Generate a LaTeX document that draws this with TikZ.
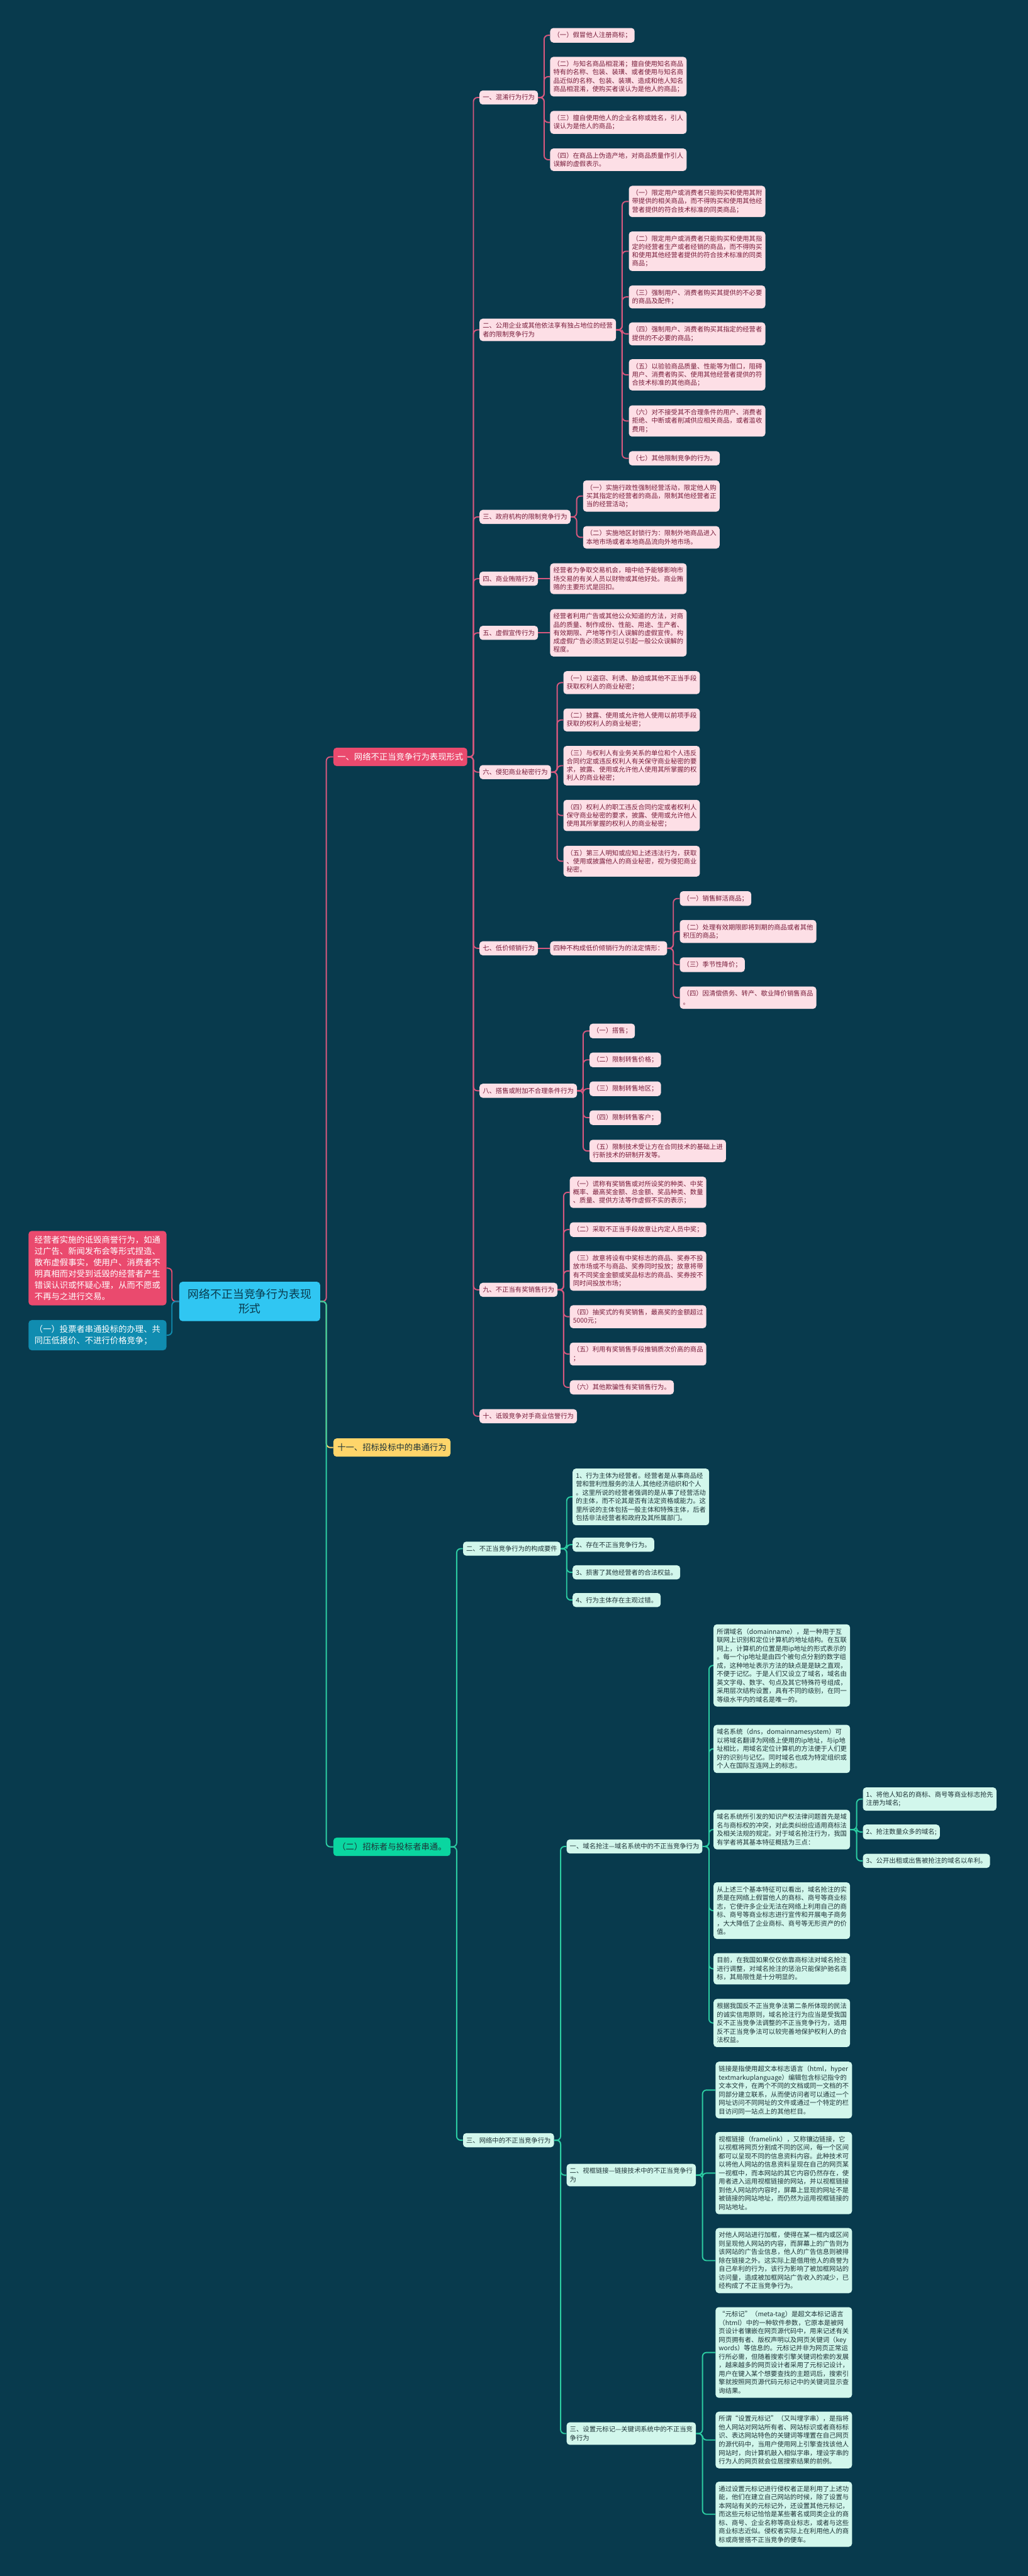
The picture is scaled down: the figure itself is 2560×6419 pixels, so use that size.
\documentclass[tikz,border=0pt]{standalone}
\usepackage{fontspec}
\setmainfont{Noto Sans CJK SC}
\definecolor{bgcol}{RGB}{8,58,77}
\definecolor{pinkln}{RGB}{214,88,126}
\definecolor{pinkfill}{RGB}{253,223,230}
\definecolor{pinktext}{RGB}{120,28,58}
\definecolor{redfill}{RGB}{234,74,110}
\definecolor{greenln}{RGB}{44,204,162}
\definecolor{greenfill}{RGB}{210,247,236}
\definecolor{greentext}{RGB}{30,52,56}
\definecolor{mintfill}{RGB}{10,214,160}
\definecolor{yellowfill}{RGB}{255,213,106}
\definecolor{rootfill}{RGB}{48,198,242}
\definecolor{bluefill}{RGB}{16,140,176}
\begin{document}
\begin{tikzpicture}[
    x=0.5pt, y=-0.5pt,
    base/.style={
        rounded corners=4pt,
        anchor=west,
        align=left,
        inner xsep=4pt,
        inner ysep=5pt,
        font=\fontsize{8.1pt}{10.35pt}\selectfont
    },
    pinkbox/.style={base, fill=pinkfill, text=pinktext},
    greenbox/.style={base, fill=greenfill, text=greentext,
        font=\fontsize{8.1pt}{10.6pt}\selectfont},
    topbox/.style={
        rounded corners=4pt,
        anchor=west,
        inner xsep=5pt,
        inner ysep=6.5pt,
        font=\fontsize{10.45pt}{13pt}\selectfont
    },
    sidebox/.style={
        rounded corners=4pt,
        anchor=east,
        align=left,
        inner xsep=7.5pt,
        inner ysep=6.5pt,
        text=white,
        font=\fontsize{10.45pt}{14pt}\selectfont
    },
    rootbox/.style={
        rounded corners=4pt,
        align=center,
        fill=rootfill,
        text=bgcol,
        inner xsep=11pt,
        inner ysep=9pt,
        font=\fontsize{13.95pt}{17.9pt}\selectfont
    },
    pinkline/.style={draw=pinkln, line width=1.5pt, rounded corners=5pt},
    greenline/.style={draw=greenln, line width=1.5pt, rounded corners=5pt}
]
    \fill[bgcol] (0,0) rectangle (2560,6419);
    \useasboundingbox (0,0) rectangle (2560,6419);

    % root and side notes
    \node[rootbox] (root) at (622,3243) {网络不正当竞争行为表现\\形式};
    \node[sidebox, fill=redfill] (defame) at (415,3160) {经营者实施的诋毁商誉行为，如通\\过广告、新闻发布会等形式捏造、\\散布虚假事实，使用户、消费者不\\明真相而对受到诋毁的经营者产生\\错误认识或怀疑心理，从而不愿或\\不再与之进行交易。};
    \node[sidebox, fill=bluefill] (collude) at (415,3327) {（一）投票者串通投标的办理、共\\同压低报价、不进行价格竞争；};

    % first level
    \node[topbox, fill=redfill, text=white] (forms) at (830,1886) {一、网络不正当竞争行为表现形式};
    \node[topbox, fill=yellowfill, text=greentext] (bid) at (830,3607) {十一、招标投标中的串通行为};
    \node[topbox, fill=mintfill, text=greentext] (collusion) at (830,4602) {（二）招标者与投标者串通。};

    % pink branch
    \node[pinkbox] (hx1) at (1194,243) {一、混淆行为行为};
    \node[pinkbox] (hx2) at (1194,822) {二、公用企业或其他依法享有独占地位的经营\\者的限制竞争行为};
    \node[pinkbox] (hx3) at (1194,1288) {三、政府机构的限制竞争行为};
    \node[pinkbox] (hx4) at (1194,1442) {四、商业贿赂行为};
    \node[pinkbox] (hx5) at (1194,1577) {五、虚假宣传行为};
    \node[pinkbox] (hx6) at (1194,1924) {六、侵犯商业秘密行为};
    \node[pinkbox] (hx7) at (1194,2363) {七、低价倾销行为};
    \node[pinkbox] (hx8) at (1194,2718) {八、搭售或附加不合理条件行为};
    \node[pinkbox] (hx9) at (1194,3214) {九、不正当有奖销售行为};
    \node[pinkbox] (hx10) at (1194,3529) {十、诋毁竞争对手商业信誉行为};

    \node[pinkbox] (hx1a) at (1370,88) {（一）假冒他人注册商标；};
    \node[pinkbox] (hx1b) at (1370,191) {（二）与知名商品相混淆；擅自使用知名商品\\特有的名称、包装、装璜、或者使用与知名商\\品近似的名称、包装、装璜、造成和他人知名\\商品相混淆，使购买者误认为是他人的商品；};
    \node[pinkbox] (hx1c) at (1370,305) {（三）擅自使用他人的企业名称或姓名，引人\\误认为是他人的商品；};
    \node[pinkbox] (hx1d) at (1370,398) {（四）在商品上伪造产地，对商品质量作引人\\误解的虚假表示。};

    \node[pinkbox] (hx2a) at (1566,502) {（一）限定用户或消费者只能购买和使用其附\\带提供的相关商品，而不得购买和使用其他经\\营者提供的符合技术标准的同类商品；};
    \node[pinkbox] (hx2b) at (1566,626) {（二）限定用户或消费者只能购买和使用其指\\定的经营者生产或者经销的商品，而不得购买\\和使用其他经营者提供的符合技术标准的同类\\商品；};
    \node[pinkbox] (hx2c) at (1566,740) {（三）强制用户、消费者购买其提供的不必要\\的商品及配件；};
    \node[pinkbox] (hx2d) at (1566,832) {（四）强制用户、消费者购买其指定的经营者\\提供的不必要的商品；};
    \node[pinkbox] (hx2e) at (1566,934) {（五）以验验商品质量、性能等为借口，阻碍\\用户、消费者购买、使用其他经营者提供的符\\合技术标准的其他商品；};
    \node[pinkbox] (hx2f) at (1566,1049) {（六）对不接受其不合理条件的用户、消费者\\拒绝、中断或者削减供应相关商品，或者滥收\\费用；};
    \node[pinkbox] (hx2g) at (1566,1142) {（七）其他限制竞争的行为。};

    \node[pinkbox] (hx3a) at (1452,1236) {（一）实施行政性强制经营活动，限定他人购\\买其指定的经营者的商品，限制其他经营者正\\当的经营活动；};
    \node[pinkbox] (hx3b) at (1452,1339) {（二）实施地区封锁行为：限制外地商品进入\\本地市场或者本地商品流向外地市场。};

    \node[pinkbox] (hx4a) at (1370,1442) {经营者为争取交易机会，暗中给予能够影响市\\场交易的有关人员以财物或其他好处。商业贿\\赂的主要形式是回扣。};
    \node[pinkbox] (hx5a) at (1370,1577) {经营者利用广告或其他公众知道的方法，对商\\品的质量、制作成份、性能、用途、生产者、\\有效期限、产地等作引人误解的虚假宣传。构\\成虚假广告必须达到足以引起一般公众误解的\\程度。};

    \node[pinkbox] (hx6a) at (1403,1701) {（一）以盗窃、利诱、胁迫或其他不正当手段\\获取权利人的商业秘密；};
    \node[pinkbox] (hx6b) at (1403,1794) {（二）披露、使用或允许他人使用以前项手段\\获取的权利人的商业秘密；};
    \node[pinkbox] (hx6c) at (1403,1908) {（三）与权利人有业务关系的单位和个人违反\\合同约定或违反权利人有关保守商业秘密的要\\求，披露、使用或允许他人使用其所掌握的权\\利人的商业秘密；};
    \node[pinkbox] (hx6d) at (1403,2032) {（四）权利人的职工违反合同约定或者权利人\\保守商业秘密的要求，披露、使用或允许他人\\使用其所掌握的权利人的商业秘密；};
    \node[pinkbox] (hx6e) at (1403,2146) {（五）第三人明知或应知上述违法行为，获取\\、使用或披露他人的商业秘密，视为侵犯商业\\秘密。};

    \node[pinkbox] (hx7a) at (1370,2363) {四种不构成低价倾销行为的法定情形：};
    \node[pinkbox] (hx7a1) at (1693,2239) {（一）销售鲜活商品；};
    \node[pinkbox] (hx7a2) at (1693,2321) {（二）处理有效期限即将到期的商品或者其他\\积压的商品；};
    \node[pinkbox] (hx7a3) at (1693,2404) {（三）季节性降价；};
    \node[pinkbox] (hx7a4) at (1693,2486) {（四）因清偿债务、转产、歇业降价销售商品\\。};

    \node[pinkbox] (hx8a) at (1468,2569) {（一）搭售；};
    \node[pinkbox] (hx8b) at (1468,2641) {（二）限制转售价格；};
    \node[pinkbox] (hx8c) at (1468,2713) {（三）限制转售地区；};
    \node[pinkbox] (hx8d) at (1468,2785) {（四）限制转售客户；};
    \node[pinkbox] (hx8e) at (1468,2868) {（五）限制技术受让方在合同技术的基础上进\\行新技术的研制开发等。};

    \node[pinkbox] (hx9a) at (1419,2971) {（一）谎称有奖销售或对所设奖的种类、中奖\\概率、最高奖金额、总金额、奖品种类、数量\\、质量、提供方法等作虚假不实的表示；};
    \node[pinkbox] (hx9b) at (1419,3064) {（二）采取不正当手段故意让内定人员中奖；};
    \node[pinkbox] (hx9c) at (1419,3167) {（三）故意将设有中奖标志的商品、奖券不投\\放市场或不与商品、奖券同时投放；故意将带\\有不同奖金金额或奖品标志的商品、奖券按不\\同时间投放市场；};
    \node[pinkbox] (hx9d) at (1419,3281) {（四）抽奖式的有奖销售，最高奖的金额超过\\5000元；};
    \node[pinkbox] (hx9e) at (1419,3374) {（五）利用有奖销售手段推销质次价高的商品\\；};
    \node[pinkbox] (hx9f) at (1419,3457) {（六）其他欺骗性有奖销售行为。};

    % green branch
    \node[greenbox] (req) at (1153,3859) {二、不正当竞争行为的构成要件};
    \node[greenbox] (net) at (1153,5333) {三、网络中的不正当竞争行为};

    \node[greenbox] (req1) at (1426,3730) {1、行为主体为经营者。经营者是从事商品经\\营和营利性服务的法人.其他经济组织和个人\\。这里所说的经营者强调的是从事了经营活动\\的主体，而不论其是否有法定资格或能力。这\\里所说的主体包括一般主体和特殊主体，后者\\包括非法经营者和政府及其所属部门。};
    \node[greenbox] (req2) at (1426,3849) {2、存在不正当竞争行为。};
    \node[greenbox] (req3) at (1426,3918) {3、损害了其他经营者的合法权益。};
    \node[greenbox] (req4) at (1426,3987) {4、行为主体存在主观过错。};

    \node[greenbox] (dom) at (1411,4601) {一、域名抢注—域名系统中的不正当竞争行为};
    \node[greenbox] (frame) at (1411,5420) {二、视框链接—链接技术中的不正当竞争行\\为};
    \node[greenbox] (meta) at (1411,6064) {三、设置元标记—关键词系统中的不正当竞\\争行为};

    \node[greenbox] (dom1) at (1777,4150) {所谓域名（domainname），是一种用于互\\联网上识别和定位计算机的地址结构。在互联\\网上，计算机的位置是用ip地址的形式表示的\\。每一个ip地址是由四个被句点分割的数字组\\成，这种地址表示方法的缺点是是缺之直观，\\不便于记忆。于是人们又设立了域名，域名由\\英文字母、数字、句点及其它特殊符号组成，\\采用层次结构设置，具有不同的级别，在同一\\等级水平内的域名是唯一的。};
    \node[greenbox] (dom2) at (1777,4358) {域名系统（dns，domainnamesystem）可\\以将域名翻译为网络上使用的ip地址，与ip地\\址相比，用域名定位计算机的方法便于人们更\\好的识别与记忆。同时域名也成为特定组织或\\个人在国际互连网上的标志。};
    \node[greenbox] (dom3) at (1777,4559) {域名系统所引发的知识产权法律问题首先是域\\名与商标权的冲突，对此类纠纷应适用商标法\\及相关法规的规定。对于域名抢注行为，我国\\有学者将其基本特征概括为三点：};
    \node[greenbox] (dom4) at (1777,4761) {从上述三个基本特征可以看出，域名抢注的实\\质是在网络上假冒他人的商标、商号等商业标\\志，它使许多企业无法在网络上利用自己的商\\标、商号等商业标志进行宣传和开展电子商务\\，大大降低了企业商标、商号等无形资产的价\\值。};
    \node[greenbox] (dom5) at (1777,4906) {目前，在我国如果仅仅依靠商标法对域名抢注\\进行调整，对域名抢注的惩治只能保护驰名商\\标，其局限性是十分明显的。};
    \node[greenbox] (dom6) at (1777,5041) {根据我国反不正当竞争法第二条所体现的民法\\的诚实信用原则，域名抢注行为应当是受我国\\反不正当竞争法调整的不正当竞争行为，适用\\反不正当竞争法可以较完善地保护权利人的合\\法权益。};

    \node[greenbox] (dom3a) at (2149,4483) {1、将他人知名的商标、商号等商业标志抢先\\注册为域名;};
    \node[greenbox] (dom3b) at (2149,4565) {2、抢注数量众多的域名;};
    \node[greenbox] (dom3c) at (2149,4637) {3、公开出租或出售被抢注的域名以牟利。};

    \node[greenbox] (frm1) at (1782,5208) {链接是指使用超文本标志语言（html，hyper\\textmarkuplanguage）编辑包含标记指令的\\文本文件，在两个不同的文档或同一文档的不\\同部分建立联系，从而使访问者可以通过一个\\网址访问不同网址的文件或通过一个特定的栏\\目访问同一站点上的其他栏目。};
    \node[greenbox] (frm2) at (1782,5415) {视框链接（framelink），又称镶边链接，它\\以视框将网页分割成不同的区间，每一个区间\\都可以呈现不同的信息资料内容。此种技术可\\以将他人网站的信息资料呈现在自己的网页某\\一视框中，而本网站的其它内容仍然存在，使\\用者进入运用视框链接的网站，并以视框链接\\到他人网站的内容时，屏幕上显现的网址不是\\被链接的网站地址，而仍然为运用视框链接的\\网站地址。};
    \node[greenbox] (frm3) at (1782,5633) {对他人网站进行加框，使得在某一框内或区间\\则呈现他人网站的内容，而屏幕上的广告则为\\该网站的广告业信息，他人的广告信息则被排\\除在链接之外。这实际上是借用他人的商誉为\\自己牟利的行为，该行为影响了被加框网站的\\访问量，造成被加框网站广告收入的减少，已\\经构成了不正当竞争行为。};

    \node[greenbox] (meta1) at (1782,5862) {“元标记”（meta-tag）是超文本标记语言\\（html）中的一种软件参数，它原本是被网\\页设计者镶嵌在网页源代码中，用来记述有关\\网页拥有者、版权声明以及网页关键词（key\\words）等信息的。元标记并非为网页正常运\\行所必需，但随着搜索引擎关键词检索的发展\\，越来越多的网页设计者采用了元标记设计，\\用户在键入某个想要查找的主题词后，搜索引\\擎就按照网页源代码元标记中的关键词显示查\\询结果。};
    \node[greenbox] (meta2) at (1782,6080) {所谓“设置元标记”（又叫埋字串），是指将\\他人网站对网站所有者、网站标识或者商标标\\识、表达网站特色的关键词等埋置在自己网页\\的源代码中，当用户使用网上引擎查找该他人\\网站时，向计算机敲入相似字串，埋设字串的\\行为人的网页就会位居搜索结果的前例。};
    \node[greenbox] (meta3) at (1782,6265) {通过设置元标记进行侵权者正是利用了上述功\\能，他们在建立自己网站的时候，除了设置与\\本网站有关的元标记外，还设置其他元标记，\\而这些元标记恰恰是某些著名或同类企业的商\\标、商号、企业名称等商业标志，或者与这些\\商业标志近似。侵权者实际上在利用他人的商\\标或商誉搭不正当竞争的便车。};

    % connectors, root
    \draw[pinkline, draw=redfill] (root.west) -- ++(-18,0) |- (defame.east);
    \draw[pinkline, draw=bluefill] (root.west) -- ++(-18,0) |- (collude.east);
    \draw[pinkline] (root.east) -- ++(15,0) |- (forms.west);
    \draw[pinkline, draw=yellowfill] (root.east) -- ++(15,0) |- (bid.west);
    \draw[greenline] (root.east) -- ++(15,0) |- (collusion.west);

    % connectors, pink branch
    \draw[pinkline] (forms.east) -- ++(15,0) |- (hx1.west);
    \draw[pinkline] (forms.east) -- ++(15,0) |- (hx2.west);
    \draw[pinkline] (forms.east) -- ++(15,0) |- (hx3.west);
    \draw[pinkline] (forms.east) -- ++(15,0) |- (hx4.west);
    \draw[pinkline] (forms.east) -- ++(15,0) |- (hx5.west);
    \draw[pinkline] (forms.east) -- ++(15,0) |- (hx6.west);
    \draw[pinkline] (forms.east) -- ++(15,0) |- (hx7.west);
    \draw[pinkline] (forms.east) -- ++(15,0) |- (hx8.west);
    \draw[pinkline] (forms.east) -- ++(15,0) |- (hx9.west);
    \draw[pinkline] (forms.east) -- ++(15,0) |- (hx10.west);

    \draw[pinkline] (hx1.east) -- ++(15,0) |- (hx1a.west);
    \draw[pinkline] (hx1.east) -- ++(15,0) |- (hx1b.west);
    \draw[pinkline] (hx1.east) -- ++(15,0) |- (hx1c.west);
    \draw[pinkline] (hx1.east) -- ++(15,0) |- (hx1d.west);
    \draw[pinkline] (hx2.east) -- ++(15,0) |- (hx2a.west);
    \draw[pinkline] (hx2.east) -- ++(15,0) |- (hx2b.west);
    \draw[pinkline] (hx2.east) -- ++(15,0) |- (hx2c.west);
    \draw[pinkline] (hx2.east) -- ++(15,0) |- (hx2d.west);
    \draw[pinkline] (hx2.east) -- ++(15,0) |- (hx2e.west);
    \draw[pinkline] (hx2.east) -- ++(15,0) |- (hx2f.west);
    \draw[pinkline] (hx2.east) -- ++(15,0) |- (hx2g.west);
    \draw[pinkline] (hx3.east) -- ++(15,0) |- (hx3a.west);
    \draw[pinkline] (hx3.east) -- ++(15,0) |- (hx3b.west);
    \draw[pinkline] (hx4.east) -- (hx4a.west);
    \draw[pinkline] (hx5.east) -- (hx5a.west);
    \draw[pinkline] (hx6.east) -- ++(15,0) |- (hx6a.west);
    \draw[pinkline] (hx6.east) -- ++(15,0) |- (hx6b.west);
    \draw[pinkline] (hx6.east) -- ++(15,0) |- (hx6c.west);
    \draw[pinkline] (hx6.east) -- ++(15,0) |- (hx6d.west);
    \draw[pinkline] (hx6.east) -- ++(15,0) |- (hx6e.west);
    \draw[pinkline] (hx7.east) -- (hx7a.west);
    \draw[pinkline] (hx7a.east) -- ++(15,0) |- (hx7a1.west);
    \draw[pinkline] (hx7a.east) -- ++(15,0) |- (hx7a2.west);
    \draw[pinkline] (hx7a.east) -- ++(15,0) |- (hx7a3.west);
    \draw[pinkline] (hx7a.east) -- ++(15,0) |- (hx7a4.west);
    \draw[pinkline] (hx8.east) -- ++(15,0) |- (hx8a.west);
    \draw[pinkline] (hx8.east) -- ++(15,0) |- (hx8b.west);
    \draw[pinkline] (hx8.east) -- ++(15,0) |- (hx8c.west);
    \draw[pinkline] (hx8.east) -- ++(15,0) |- (hx8d.west);
    \draw[pinkline] (hx8.east) -- ++(15,0) |- (hx8e.west);
    \draw[pinkline] (hx9.east) -- ++(15,0) |- (hx9a.west);
    \draw[pinkline] (hx9.east) -- ++(15,0) |- (hx9b.west);
    \draw[pinkline] (hx9.east) -- ++(15,0) |- (hx9c.west);
    \draw[pinkline] (hx9.east) -- ++(15,0) |- (hx9d.west);
    \draw[pinkline] (hx9.east) -- ++(15,0) |- (hx9e.west);
    \draw[pinkline] (hx9.east) -- ++(15,0) |- (hx9f.west);

    % connectors, green branch
    \draw[greenline] (collusion.east) -- ++(15,0) |- (req.west);
    \draw[greenline] (collusion.east) -- ++(15,0) |- (net.west);
    \draw[greenline] (req.east) -- ++(15,0) |- (req1.west);
    \draw[greenline] (req.east) -- ++(15,0) |- (req2.west);
    \draw[greenline] (req.east) -- ++(15,0) |- (req3.west);
    \draw[greenline] (req.east) -- ++(15,0) |- (req4.west);
    \draw[greenline] (net.east) -- ++(16,0) |- (dom.west);
    \draw[greenline] (net.east) -- ++(16,0) |- (frame.west);
    \draw[greenline] (net.east) -- ++(16,0) |- (meta.west);
    \draw[greenline] (dom.east) -- ++(16,0) |- (dom1.west);
    \draw[greenline] (dom.east) -- ++(16,0) |- (dom2.west);
    \draw[greenline] (dom.east) -- ++(16,0) |- (dom3.west);
    \draw[greenline] (dom.east) -- ++(16,0) |- (dom4.west);
    \draw[greenline] (dom.east) -- ++(16,0) |- (dom5.west);
    \draw[greenline] (dom.east) -- ++(16,0) |- (dom6.west);
    \draw[greenline] (dom3.east) -- ++(16,0) |- (dom3a.west);
    \draw[greenline] (dom3.east) -- ++(16,0) |- (dom3b.west);
    \draw[greenline] (dom3.east) -- ++(16,0) |- (dom3c.west);
    \draw[greenline] (frame.east) -- ++(16,0) |- (frm1.west);
    \draw[greenline] (frame.east) -- ++(16,0) |- (frm2.west);
    \draw[greenline] (frame.east) -- ++(16,0) |- (frm3.west);
    \draw[greenline] (meta.east) -- ++(16,0) |- (meta1.west);
    \draw[greenline] (meta.east) -- ++(16,0) |- (meta2.west);
    \draw[greenline] (meta.east) -- ++(16,0) |- (meta3.west);
\end{tikzpicture}
\end{document}
